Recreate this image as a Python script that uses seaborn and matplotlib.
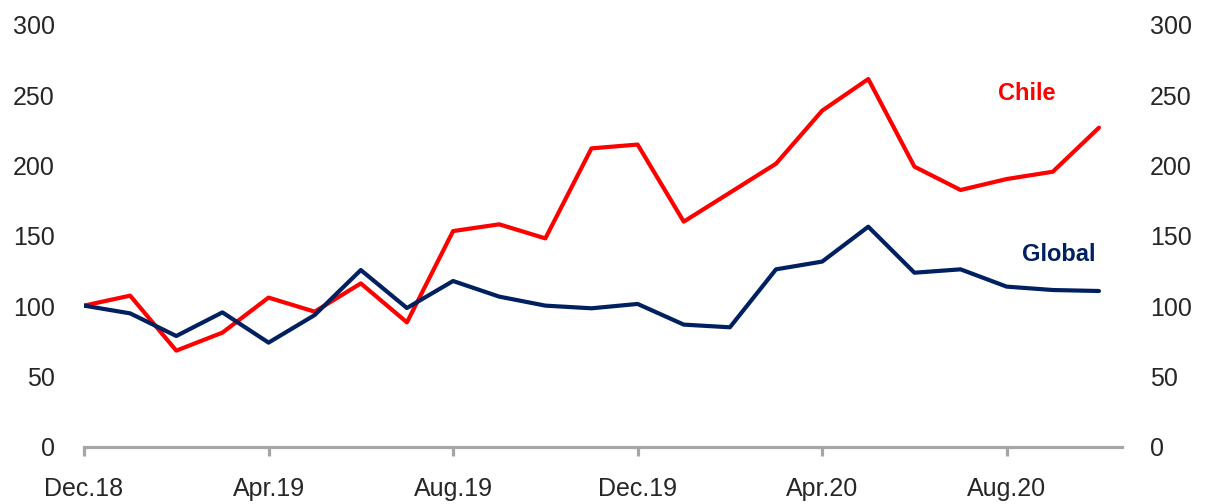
import pandas as pd
import matplotlib
matplotlib.use('Agg')
import matplotlib.pyplot as plt
import seaborn as sns

# monthly data, Dec.18 .. Oct.20
months = ['Dec.18', 'Jan.19', 'Feb.19', 'Mar.19', 'Apr.19', 'May.19', 'Jun.19', 'Jul.19',
          'Aug.19', 'Sep.19', 'Oct.19', 'Nov.19', 'Dec.19', 'Jan.20', 'Feb.20', 'Mar.20',
          'Apr.20', 'May.20', 'Jun.20', 'Jul.20', 'Aug.20', 'Sep.20', 'Oct.20']
chile = [100.5, 107.6, 68.5, 81.3, 106.2, 96.2, 116.3, 88.6, 153.5, 158.3, 148.3, 212.3,
         215.0, 160.2, 180.8, 201.4, 239.1, 261.6, 199.3, 182.7, 190.5, 195.7, 227.0]
global_ = [100.5, 95.0, 78.9, 95.7, 74.2, 93.8, 125.8, 98.8, 118.0, 106.9, 100.5, 98.6,
           101.7, 87.0, 85.1, 126.3, 131.8, 156.6, 123.9, 126.3, 114.0, 111.6, 110.9]
tick_idx = [0, 4, 8, 12, 16, 20]
tick_labels = ['Dec.18', 'Apr.19', 'Aug.19', 'Dec.19', 'Apr.20', 'Aug.20']

df = pd.DataFrame({'t': range(len(months)), 'Chile': chile, 'Global': global_})
long = df.melt(id_vars='t', var_name='serie', value_name='valor')

sns.set_style('white')
plt.rcParams['font.family'] = ['Liberation Sans', 'DejaVu Sans']

RED = '#FF0000'
NAVY = '#002060'
GRAY = '#A6A6A6'

fig = plt.figure(figsize=(12.07, 5.04), dpi=100)
ax = fig.add_axes([0.0696, 0.1131, 0.86, 0.8373])

sns.lineplot(data=long, x='t', y='valor', hue='serie', hue_order=['Chile', 'Global'],
             palette={'Chile': RED, 'Global': NAVY}, linewidth=3, legend=False, ax=ax)

ax.set_xlim(0, 22.5)
ax.set_ylim(0, 300)
ax.set_yticks(range(0, 301, 50))
ax.set_xticks(tick_idx)
ax.set_xticklabels(tick_labels)
ax.set_xlabel('')
ax.set_ylabel('')

for s in ['top', 'right', 'left']:
    ax.spines[s].set_visible(False)
ax.spines['bottom'].set_color(GRAY)
ax.spines['bottom'].set_linewidth(2.3)

ax.tick_params(axis='x', length=6.5, width=2.3, color=GRAY, pad=15, labelsize=18, bottom=True)
ax.tick_params(axis='y', length=0, pad=21, labelsize=18)

# right axis, same scale
ax2 = ax.twinx()
ax2.set_ylim(0, 300)
ax2.set_yticks(range(0, 301, 50))
for s in ['top', 'right', 'left', 'bottom']:
    ax2.spines[s].set_visible(False)
ax2.tick_params(axis='y', length=0, pad=20, labelsize=18)

ax.text(20.43, 251.6, 'Chile', color=RED, fontsize=17, fontweight='bold', ha='center', va='center')
ax.text(21.13, 136.5, 'Global', color=NAVY, fontsize=17, fontweight='bold', ha='center', va='center')

fig.savefig('out.png', dpi=100)
